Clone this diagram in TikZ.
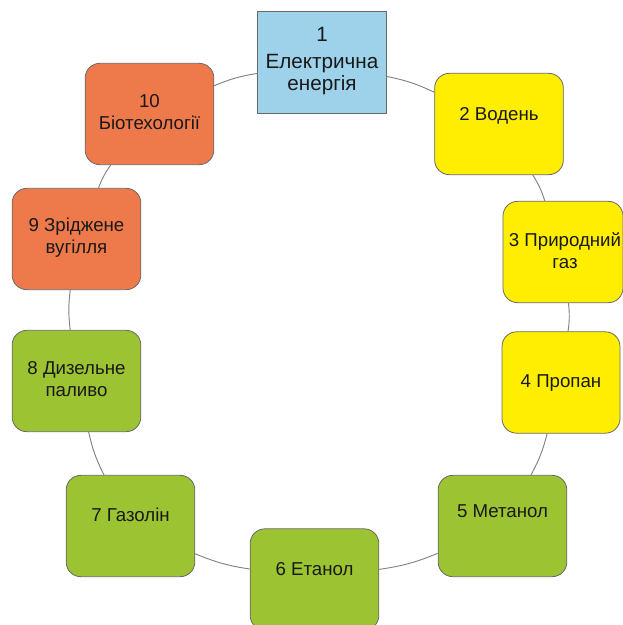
\documentclass[tikz,border=0pt]{standalone}
\usepackage{fontspec}
\setmainfont{Liberation Sans}
\definecolor{boxblue}{RGB}{157,210,234}
\definecolor{boxyellow}{RGB}{255,238,0}
\definecolor{boxorange}{RGB}{238,122,76}
\definecolor{boxgreen}{RGB}{155,195,50}
\definecolor{boxline}{RGB}{105,105,105}
\definecolor{linkgray}{RGB}{130,130,130}
\definecolor{txtcol}{RGB}{25,25,25}

\begin{document}
\begin{tikzpicture}[x=0.75pt,y=0.75pt,yscale=-1,
	box/.style={draw=boxline, line width=0.6pt, rounded corners=11pt, minimum width=96.5pt, minimum height=76pt, inner sep=0pt},
	lbl/.style={align=center, font=\fontsize{14}{16.5}\selectfont, text=txtcol, inner sep=0pt},
	link/.style={draw=linkgray, line width=0.7pt}]
	\useasboundingbox (0,0) rectangle (622,625);

	% Boxes
	\node [box, rounded corners=0pt, fill=boxblue] (b1) at (322,62.5) {};
	\node [box, fill=boxyellow] (b2) at (499,124) {};
	\node [box, fill=boxyellow, minimum width=90pt] (b3) at (563,252) {};
	\node [box, fill=boxyellow, minimum width=88.5pt] (b4) at (561,382.5) {};
	\node [box, fill=boxgreen] (b5) at (502.5,526) {};
	\node [box, fill=boxgreen] (b6) at (314.5,579.5) {};
	\node [box, fill=boxgreen] (b7) at (130.5,526) {};
	\node [box, fill=boxgreen] (b8) at (76.5,381) {};
	\node [box, fill=boxorange] (b9) at (76.5,239) {};
	\node [box, fill=boxorange] (b10) at (149.5,114) {};

	% Text Node
	\node [lbl, font=\fontsize{15.5}{16.5}\selectfont] (t1) at (322,61) {1\\[4pt]Електрична\\енергія};
	\node [lbl] (t2) at (499,116) {2 Водень};
	\node [lbl] (t3) at (565,251) {3 Природний\\газ};
	\node [lbl] (t4) at (561,383) {4 Пропан};
	\node [lbl] (t5) at (502.5,511) {5 Метанол};
	\node [lbl] (t6) at (314.5,569) {6 Етанол};
	\node [lbl] (t7) at (130.5,515) {7 Газолін};
	\node [lbl] (t8) at (76.5,379) {8 Дизельне\\паливо};
	\node [lbl] (t9) at (76.5,238) {9 Зріджене\\вугілля};
	\node [lbl] (t10) at (149.5,112) {10\\Біотехології};

	% Connection
	\draw [link] (b1) to [bend right=7] (b2);
	\draw [link] (b2) to [bend right=7] (b3);
	\draw [link] (b3) to [bend right=7] (b4);
	\draw [link] (b4) to [bend right=7] (b5);
	\draw [link] (b5) to [bend right=7] (b6);
	\draw [link] (b6) to [bend right=7] (b7);
	\draw [link] (b7) to [bend right=7] (b8);
	\draw [link] (b8) to [bend right=7] (b9);
	\draw [link] (b9) to [bend right=7] (b10);
	\draw [link] (b10) to [bend right=7] (b1);

\end{tikzpicture}
\end{document}
